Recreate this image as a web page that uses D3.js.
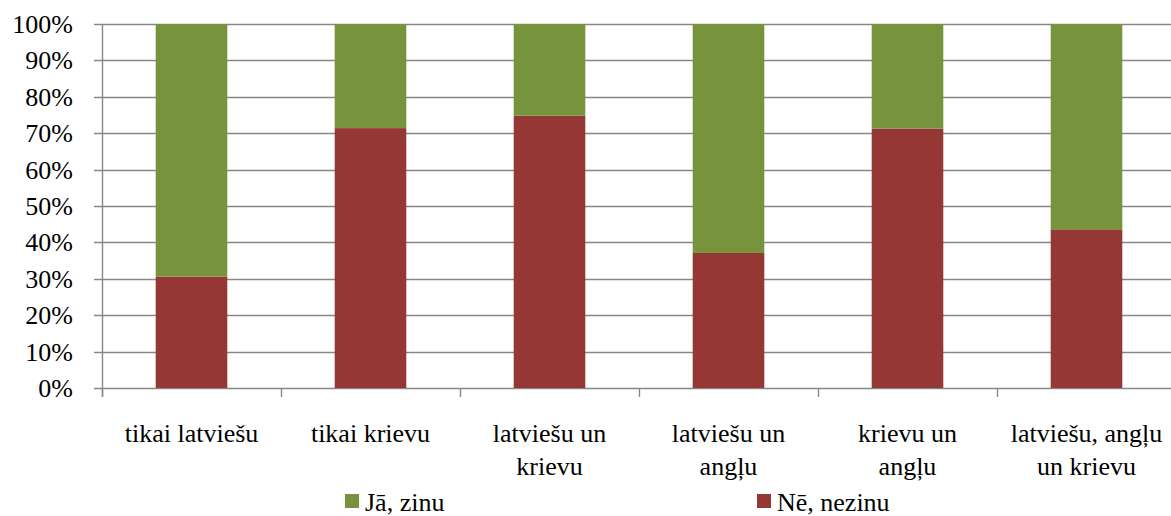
<!DOCTYPE html>
<html>
<head>
<meta charset="utf-8">
<script src="https://cdn.jsdelivr.net/npm/d3@7"></script>
<style>
  body { margin: 0; background: #fff; }
  svg { display: block; }
  svg text { font-family: 'Liberation Serif', 'Times New Roman', Times, 'DejaVu Serif', serif; }
</style>
</head>
<body>
<svg id="chart" width="1171" height="516"></svg>
<script>
// categories (lines of each axis label)
const categories = [
  ['tikai latviešu'],
  ['tikai krievu'],
  ['latviešu un', 'krievu'],
  ['latviešu un', 'angļu'],
  ['krievu un', 'angļu'],
  ['latviešu, angļu', 'un krievu']
];
// series values, percent
const neValues = [30.6, 71.4, 74.8, 37.1, 71.3, 43.6];
const jaValues = [69.4, 28.6, 25.2, 62.9, 28.7, 56.4];
const seriesNames = ['Jā, zinu', 'Nē, nezinu'];
const seriesColors = ['#77933c', '#953735'];
const yTicks = [0, 10, 20, 30, 40, 50, 60, 70, 80, 90, 100];

const svg = d3.select('#chart');
const margin = { left: 102, top: 24 };
const bandW = 179;
const plotH = 364;
const fontFamily = "'Liberation Serif', 'Times New Roman', Times, 'DejaVu Serif', serif";

const x = d3.scaleBand()
  .domain(d3.range(categories.length))
  .range([margin.left, margin.left + bandW * categories.length])
  .paddingInner(0.6)
  .paddingOuter(0.3);

const y = d3.scaleLinear().domain([0, 100]).range([margin.top + plotH, margin.top]);

const gridColor = '#878787';

// gridlines
svg.append('g')
  .selectAll('line')
  .data(yTicks)
  .join('line')
  .attr('x1', margin.left - 8)
  .attr('x2', 1171)
  .attr('y1', d => Math.round(y(d)) + 0.5)
  .attr('y2', d => Math.round(y(d)) + 0.5)
  .attr('stroke', gridColor)
  .attr('stroke-width', 1.4);

// y axis line
svg.append('line')
  .attr('x1', margin.left + 0.5).attr('x2', margin.left + 0.5)
  .attr('y1', y(100)).attr('y2', y(0) + 9)
  .attr('stroke', gridColor).attr('stroke-width', 1.4);

// y tick labels
svg.append('g')
  .selectAll('text')
  .data(yTicks)
  .join('text')
  .attr('x', 73)
  .attr('y', d => y(d) + 9)
  .attr('text-anchor', 'end')
  .attr('font-family', fontFamily)
  .attr('font-size', 26)
  .text(d => d + '%');

// x tick marks at category boundaries
svg.append('g')
  .selectAll('line')
  .data(d3.range(categories.length + 1))
  .join('line')
  .attr('x1', i => margin.left + bandW * i + 0.5)
  .attr('x2', i => margin.left + bandW * i + 0.5)
  .attr('y1', y(0))
  .attr('y2', y(0) + 9)
  .attr('stroke', gridColor)
  .attr('stroke-width', 1.4);

// stacked bars
const stackData = categories.map((c, i) => ({ i, ne: neValues[i], ja: jaValues[i] }));
const stacked = d3.stack().keys(['ne', 'ja'])(stackData);
const colorByKey = { ne: seriesColors[1], ja: seriesColors[0] };

svg.append('g')
  .selectAll('g')
  .data(stacked)
  .join('g')
  .attr('fill', d => colorByKey[d.key])
  .selectAll('rect')
  .data(d => d)
  .join('rect')
  .attr('x', d => x(d.data.i))
  .attr('width', x.bandwidth())
  .attr('y', d => y(d[1]))
  .attr('height', d => y(d[0]) - y(d[1]));

// x labels
const labels = svg.append('g')
  .selectAll('text')
  .data(categories)
  .join('text')
  .attr('x', (d, i) => x(i) + x.bandwidth() / 2)
  .attr('y', 442)
  .attr('text-anchor', 'middle')
  .attr('font-family', fontFamily)
  .attr('font-size', 26);

labels.selectAll('tspan')
  .data(d => d)
  .join('tspan')
  .attr('x', function () { return d3.select(this.parentNode).attr('x'); })
  .attr('dy', (d, j) => j === 0 ? 0 : 33)
  .text(d => d);

// legend
const legendX = [345, 757];
const legend = svg.append('g')
  .selectAll('g')
  .data(seriesNames)
  .join('g')
  .attr('transform', (d, i) => `translate(${legendX[i]},494)`);

legend.append('rect')
  .attr('width', 14).attr('height', 14)
  .attr('fill', (d, i) => seriesColors[i]);

legend.append('text')
  .attr('x', 20)
  .attr('y', 17)
  .attr('font-family', fontFamily)
  .attr('font-size', 26)
  .text(d => d);
</script>
</body>
</html>
